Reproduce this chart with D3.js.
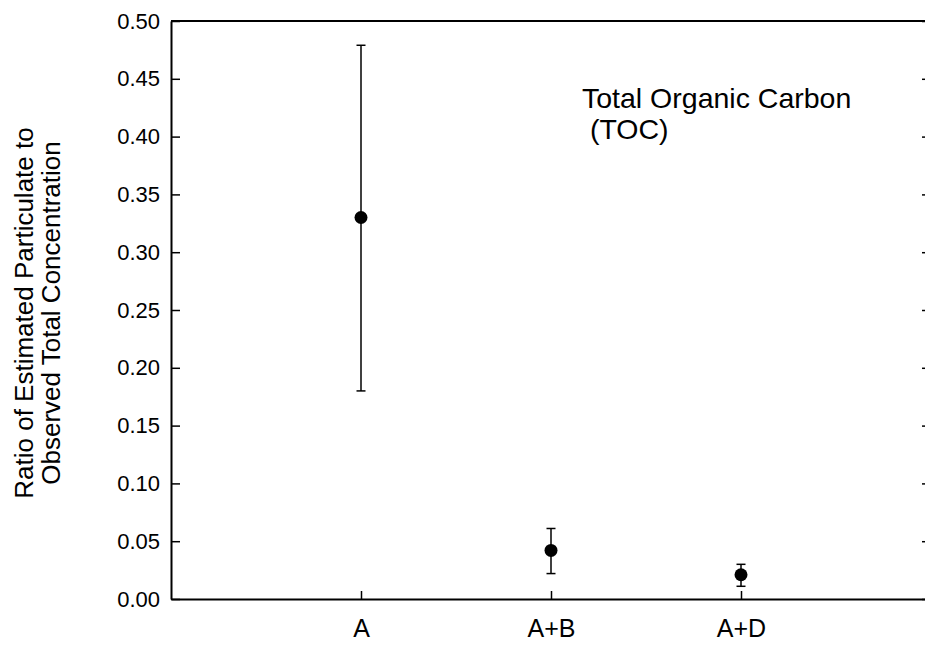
<!DOCTYPE html>
<html>
<head>
<meta charset="utf-8">
<script src="https://cdn.jsdelivr.net/npm/d3@7"></script>
<style>
  body { margin: 0; background: #fff; }
  svg { display: block; font-family: "Liberation Sans", Arial, sans-serif; }
</style>
</head>
<body>
<div class="vis"></div>
<script>
// data
const categories = ["A", "A+B", "A+D"];
const means = [0.33, 0.042, 0.021];
const upper = [0.479, 0.061, 0.030];
const lower = [0.180, 0.022, 0.011];
const yTicks = [0, 0.05, 0.10, 0.15, 0.20, 0.25, 0.30, 0.35, 0.40, 0.45, 0.50];

const rows = categories.map((c, i) => ({cat: c, pos: i + 1, mean: means[i], hi: upper[i], lo: lower[i]}));

const W = 925, H = 645;
const margin = {top: 21, right: -6, bottom: 46, left: 171};
const width = W - margin.left - margin.right;
const height = H - margin.top - margin.bottom;

const svg = d3.select(".vis").append("svg")
    .attr("width", W)
    .attr("height", H)
  .append("g")
    .attr("transform", "translate(" + margin.left + "," + margin.top + ")");

const x = d3.scaleLinear().domain([0, 4]).range([0, width]);
const y = d3.scaleLinear().domain([0, 0.5]).range([height, 0]);

// left axis, ticks pointing in
const yAxis = svg.append("g")
    .call(d3.axisLeft(y).tickValues(yTicks).tickFormat(d3.format(".2f")).tickSizeInner(-9).tickSizeOuter(0).tickPadding(11));
yAxis.selectAll("text").style("font-size", "22px").attr("fill", "#000");

// right axis (mostly off the edge)
svg.append("g")
    .attr("transform", "translate(" + width + ",0)")
    .call(d3.axisRight(y).tickValues(yTicks).tickSizeInner(-9).tickSizeOuter(0).tickFormat(""));

// bottom axis
const xAxis = svg.append("g")
    .attr("transform", "translate(0," + height + ")")
    .call(d3.axisBottom(x).tickValues(rows.map(d => d.pos)).tickFormat(d => categories[d - 1]).tickSizeInner(-8).tickSizeOuter(0).tickPadding(20));
xAxis.selectAll("text").style("font-size", "25px").attr("fill", "#000");

// top border
svg.append("line")
    .attr("x1", 0).attr("x2", width)
    .attr("y1", 0).attr("y2", 0)
    .attr("stroke", "#000").attr("stroke-width", 2);

svg.selectAll(".domain").attr("stroke", "#000").attr("stroke-width", 2);
svg.selectAll(".tick line").attr("stroke", "#000").attr("stroke-width", 1.5);

// error bars
const bars = svg.selectAll(".err").data(rows).enter().append("g").attr("class", "err");
bars.append("line")
    .attr("x1", d => x(d.pos)).attr("x2", d => x(d.pos))
    .attr("y1", d => y(d.hi)).attr("y2", d => y(d.lo))
    .attr("stroke", "#000").attr("stroke-width", 1.5);
bars.selectAll(".cap").data(d => [d.hi, d.lo].map(v => ({pos: d.pos, v: v}))).enter().append("line")
    .attr("x1", d => x(d.pos) - 4.5).attr("x2", d => x(d.pos) + 4.5)
    .attr("y1", d => y(d.v)).attr("y2", d => y(d.v))
    .attr("stroke", "#000").attr("stroke-width", 1.5);

svg.selectAll(".pt").data(rows).enter().append("circle")
    .attr("cx", d => x(d.pos))
    .attr("cy", d => y(d.mean))
    .attr("r", 6.5)
    .attr("fill", "#000");

// annotation
const note = svg.append("text")
    .attr("x", 582 - margin.left)
    .attr("y", 108 - margin.top)
    .style("font-size", "28.5px");
note.append("tspan").text("Total Organic Carbon");
note.append("tspan").attr("x", 582 - margin.left).attr("dy", 31).style("white-space", "pre").text(" (TOC)");

// y axis title
const yl = svg.append("text")
    .attr("transform", "translate(" + (33 - margin.left) + "," + (height / 2 + 3) + ") rotate(-90)")
    .attr("text-anchor", "middle")
    .style("font-size", "26px");
yl.append("tspan").attr("x", 0).attr("dy", 0).text("Ratio of Estimated Particulate to");
yl.append("tspan").attr("x", 0).attr("dy", 27).text("Observed Total Concentration");
</script>
</body>
</html>
